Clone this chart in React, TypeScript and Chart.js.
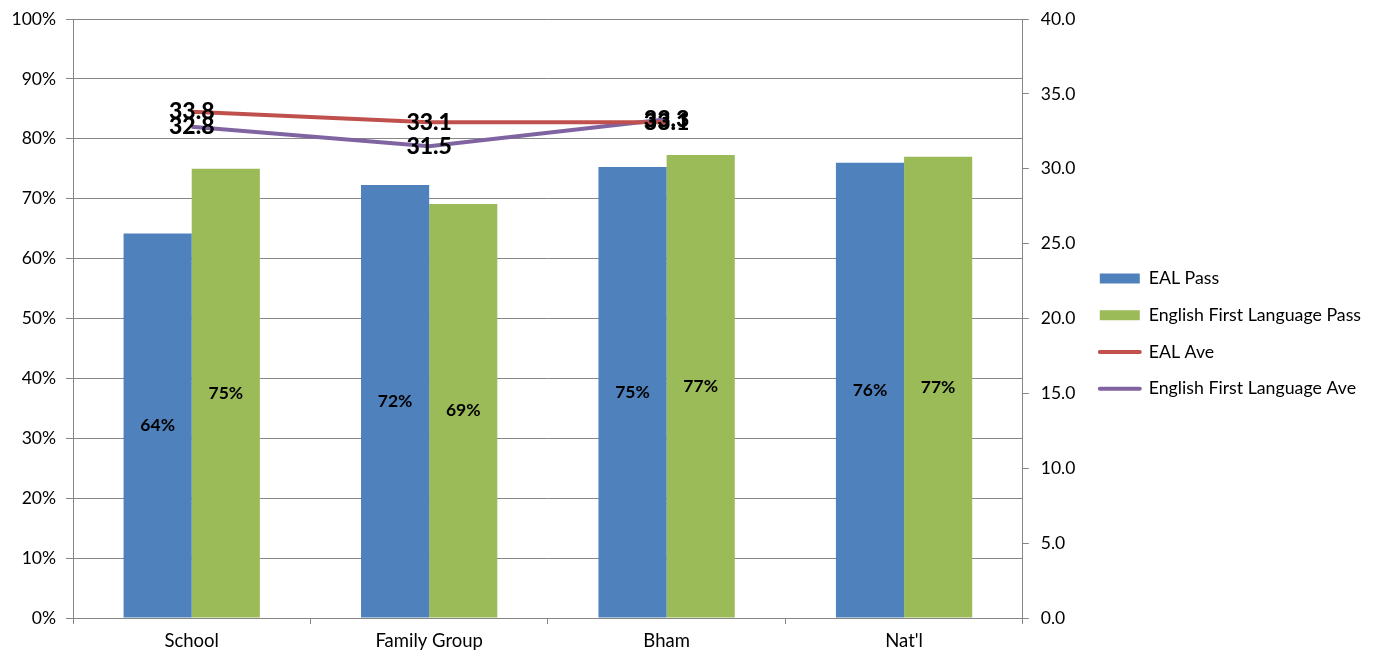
import React, { useEffect, useRef } from "react";
import { Chart, registerables } from "chart.js";

Chart.register(...registerables);

const categories = ["School", "Family Group", "Bham", "Nat'l"];
const ealPass = [0.642, 0.723, 0.753, 0.76];
const eflPass = [0.75, 0.691, 0.773, 0.77];
const ealAve = [33.8, 33.1, 33.1, null];
const eflAve = [32.8, 31.5, 33.3, null];
const leftTicks = [0, 0.1, 0.2, 0.3, 0.4, 0.5, 0.6, 0.7, 0.8, 0.9, 1.0];
const rightTicks = [0, 5, 10, 15, 20, 25, 30, 35, 40];

const FONT = "Lato, 'Open Sans', sans-serif";
const GRID = "#868686";

const labelPlugin = {
  id: "valueLabels",
  afterDatasetsDraw(chart: any) {
    const ctx = chart.ctx;
    ctx.save();
    ctx.fillStyle = "#000";
    ctx.textAlign = "center";
    ctx.textBaseline = "middle";
    chart.data.datasets.forEach((ds: any, i: number) => {
      const meta = chart.getDatasetMeta(i);
      meta.data.forEach((el: any, j: number) => {
        const v = ds.data[j];
        if (v === null || v === undefined) return;
        if (ds.type === "bar") {
          ctx.font = "bold 17.5px " + FONT;
          const mid = (el.y + el.base) / 2;
          ctx.fillText(Math.round(v * 100) + "%", el.x, mid);
        } else {
          ctx.font = "900 23px " + FONT;
          ctx.fillText(v.toFixed(1), el.x, el.y);
        }
      });
    });
    ctx.restore();
  },
};

export default function App() {
  const ref = useRef<HTMLCanvasElement | null>(null);
  useEffect(() => {
    if (!ref.current) return;
    const chart = new Chart(ref.current, {
      type: "bar",
      data: {
        labels: categories,
        datasets: [
          {
            type: "bar",
            label: "EAL Pass",
            data: ealPass,
            backgroundColor: "#4F81BD",
            yAxisID: "y",
            order: 2,
          },
          {
            type: "bar",
            label: "English First Language Pass",
            data: eflPass,
            backgroundColor: "#9BBB59",
            yAxisID: "y",
            order: 2,
          },
          {
            type: "line",
            label: "EAL Ave",
            data: ealAve as any,
            borderColor: "#C0504D",
            backgroundColor: "#C0504D",
            borderWidth: 4,
            pointRadius: 0,
            yAxisID: "y1",
            order: 1,
          },
          {
            type: "line",
            label: "English First Language Ave",
            data: eflAve as any,
            borderColor: "#8064A2",
            backgroundColor: "#8064A2",
            borderWidth: 4,
            pointRadius: 0,
            yAxisID: "y1",
            order: 1,
          },
        ] as any,
      },
      options: {
        animation: false,
        responsive: true,
        maintainAspectRatio: false,
        layout: { padding: { top: 19, right: 8, bottom: 2, left: 0 } },
        datasets: {
          bar: { categoryPercentage: 0.574, barPercentage: 1.0 },
        },
        plugins: {
          tooltip: { enabled: false },
          legend: {
            position: "right",
            align: "center",
            fullSize: false,
            maxWidth: 400,
            title: {
              display: true,
              text: "",
              font: { size: 10, lineHeight: 1 },
              padding: { top: 10, bottom: 10 },
            },
            labels: {
              usePointStyle: true,
              pointStyleWidth: 40,
              boxHeight: 10,
              padding: 19,
              color: "#000",
              font: { family: FONT, size: 17.75 },
              generateLabels(chart: any) {
                return chart.data.datasets.map((ds: any, i: number) => ({
                  text: ds.label,
                  fillStyle: ds.backgroundColor,
                  strokeStyle: ds.type === "line" ? ds.borderColor : ds.backgroundColor,
                  lineWidth: ds.type === "line" ? 4 : 0,
                  pointStyle: ds.type === "line" ? "line" : "rect",
                  lineCap: "round",
                  hidden: false,
                  datasetIndex: i,
                  fontColor: "#000",
                }));
              },
            },
          },
        },
        scales: {
          x: {
            grid: {
              offset: true,
              drawOnChartArea: false,
              drawTicks: true,
              tickLength: 6,
              color: GRID,
            },
            border: { color: GRID },
            ticks: { color: "#000", font: { family: FONT, size: 18.5 }, padding: 6 },
            afterFit(s: any) {
              s.height = 44;
            },
          },
          y: {
            position: "left",
            min: 0,
            max: 1,
            afterBuildTicks(s: any) {
              s.ticks = leftTicks.map((v) => ({ value: v }));
            },
            ticks: {
              color: "#000",
              font: { family: FONT, size: 17.5, lineHeight: 0.8 },
              padding: 10,
              callback: (v: any) => Math.round(Number(v) * 100) + "%",
            },
            grid: { color: GRID, tickLength: 7 },
            border: { color: GRID },
            afterFit(s: any) {
              s.width = 73;
              s.paddingTop = 0;
            },
          },
          y1: {
            position: "right",
            min: 0,
            max: 40,
            afterBuildTicks(s: any) {
              s.ticks = rightTicks.map((v) => ({ value: v }));
            },
            ticks: {
              color: "#000",
              font: { family: FONT, size: 17.5, lineHeight: 0.8 },
              padding: 12,
              callback: (v: any) => Number(v).toFixed(1),
            },
            grid: { drawOnChartArea: false, color: GRID, tickLength: 6 },
            border: { color: GRID },
            afterFit(s: any) {
              s.width = 58;
              s.paddingTop = 0;
            },
          },
        },
      } as any,
      plugins: [labelPlugin],
    });
    return () => chart.destroy();
  }, []);
  return (
    <div style={{ position: "fixed", left: 0, top: 0, width: 1379, height: 664, background: "#fff" }}>
      <canvas ref={ref} />
    </div>
  );
}
